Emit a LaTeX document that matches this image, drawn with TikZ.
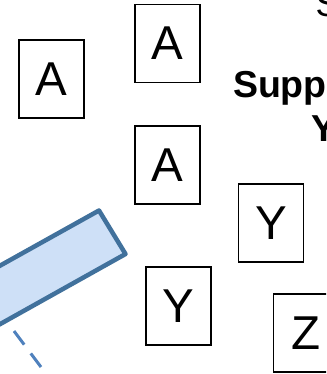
\documentclass[tikz,border=0pt]{standalone}
\usepackage{fontspec}
\setmainfont{Liberation Sans}
\definecolor{boxblue}{HTML}{41719C}
\definecolor{fillblue}{HTML}{CEE0F7}
\definecolor{dashblue}{HTML}{4F81BD}
\begin{document}
\begin{tikzpicture}[x=1pt,y=-1pt,
  letterbox/.style={draw=black, line width=1.9pt, minimum width=65pt, minimum height=78pt,
    inner sep=0pt, font=\fontsize{47.5}{47.5}\selectfont},
  boldtext/.style={anchor=base west, inner sep=0pt, font=\bfseries\fontsize{37.5}{37.5}\selectfont},
  plaintext/.style={anchor=base west, inner sep=0pt, font=\fontsize{36}{36}\selectfont}]
\useasboundingbox (0,0) rectangle (326,374);
\begin{scope}
\clip (0,0) rectangle (326,374);
\node[letterbox] (a1) at (51.7,79) {A};
\node[letterbox] (a2) at (167.5,43.5) {A};
\node[letterbox] (a3) at (167.5,165.2) {A};
\node[letterbox] (y1) at (271,223) {Y};
\node[letterbox] (y2) at (178.3,305.8) {Y};
\node[letterbox] (z) at (306,333.4) {Z};
\node[plaintext] (s) at (315.5,16.7) {S};
\node[boldtext] (supp) at (232.8,97.5) {Supp};
\node[boldtext] (ybold) at (311.5,141.7) {Y};
\draw[draw=boxblue, fill=fillblue, line width=4.5pt, line join=round]
  (99,210.5) -- (125.5,254) -- (-48,351) -- (-75,307.5) -- cycle;
\draw[dashblue, line width=3pt, dash pattern=on 17pt off 11pt]
  (14,331) -- (41,367);
\end{scope}
\end{tikzpicture}
\end{document}
